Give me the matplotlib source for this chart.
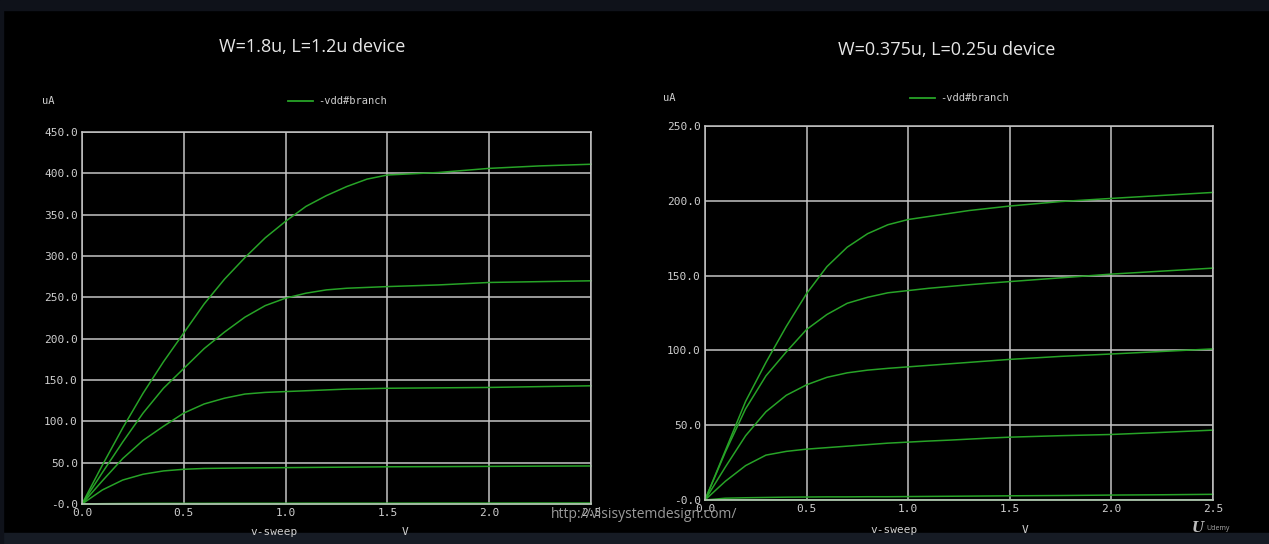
import matplotlib.pyplot as plt
from matplotlib.patches import Rectangle

# sweep points (V)
v = [0, 0.1, 0.2, 0.3, 0.4, 0.5, 0.6, 0.7, 0.8, 0.9, 1.0, 1.1, 1.2, 1.3, 1.4,
     1.5, 1.75, 2.0, 2.25, 2.5]

# W=1.8u, L=1.2u device (uA)
big_1 = [0, 47, 92, 134, 172, 207, 242, 272, 298, 322, 342, 360, 373, 384, 393,
         398, 401, 406, 409, 411]
big_2 = [0, 38, 75, 110, 140, 164, 188, 208, 226, 240, 249, 255, 259, 261, 262,
         263, 265, 268, 269, 270]
big_3 = [0, 28, 55, 77, 94, 110, 121, 128, 133, 135, 136, 137, 138, 139, 139.5,
         140, 140.5, 141, 142, 143]
big_4 = [0, 17, 29, 36, 40, 42, 43, 43.3, 43.6, 43.8, 44, 44.2, 44.4, 44.6, 44.8,
         45, 45.2, 45.5, 45.8, 46]
big_5 = [0, 0.4, 0.6, 0.7, 0.8, 0.8, 0.8, 0.9, 0.9, 0.9, 0.9, 1.0, 1.0, 1.0, 1.0,
         1.0, 1.1, 1.1, 1.2, 1.2]
big_6 = [0] * 20

# W=0.375u, L=0.25u device (uA)
small_1 = [0, 33, 66, 92, 116, 138, 156, 169, 178, 184, 187.5, 189.5, 191.5,
           193.5, 195, 196.5, 199.5, 201.6, 203.6, 205.6]
small_2 = [0, 32, 61, 83, 99, 114, 124, 131.5, 135.5, 138.5, 140, 141.5, 142.7,
           143.9, 145, 146, 148.5, 151, 153, 155]
small_3 = [0, 22, 43, 59, 70, 77, 82, 85, 86.8, 88, 89, 90, 91, 92, 93, 94, 96,
           97.6, 99.3, 101]
small_4 = [0, 12.5, 23, 30, 32.5, 34, 35, 36, 37, 38, 38.7, 39.4, 40, 40.7, 41.4,
           42, 43, 43.8, 45.2, 46.7]
small_5 = [0, 1.2, 1.5, 1.7, 1.9, 2.0, 2.1, 2.1, 2.2, 2.2, 2.3, 2.4, 2.5, 2.6,
           2.7, 2.8, 3.0, 3.3, 3.5, 3.8]
small_6 = [0] * 20

x_ticks = [0.0, 0.5, 1.0, 1.5, 2.0, 2.5]
big_yticks = [0, 50, 100, 150, 200, 250, 300, 350, 400, 450]
small_yticks = [0, 50, 100, 150, 200, 250]

GREEN = '#27a327'
GRID = '#c4c4c4'
LABEL = '#cfcfcf'
MONO = 'DejaVu Sans Mono'

fig = plt.figure(figsize=(12.69, 5.44), dpi=100, facecolor='black')

# dark frame strips of the screenshot
fig.patches.append(Rectangle((0, 1 - 10 / 544), 1, 10 / 544, transform=fig.transFigure,
                             color='#0f121a', zorder=0))
fig.patches.append(Rectangle((0, 0), 1, 11 / 544, transform=fig.transFigure,
                             color='#161b24', zorder=0))
fig.patches.append(Rectangle((0, 0), 3 / 1269, 1, transform=fig.transFigure,
                             color='#0f121a', zorder=0))


def panel(rect, curves, yticks, ymax):
    ax = fig.add_axes(rect)
    ax.set_facecolor('black')
    for c in curves:
        ax.plot(v, c, color=GREEN, lw=1.1, clip_on=False)
    ax.set_xlim(0, 2.5)
    ax.set_ylim(0, ymax)
    ax.set_xticks(x_ticks)
    ax.set_xticklabels([f'{t:.1f}' for t in x_ticks])
    ax.set_yticks(yticks)
    ax.set_yticklabels(['-0.0' if t == 0 else f'{t:.1f}' for t in yticks])
    ax.tick_params(length=0, colors=LABEL, labelsize=8, pad=3)
    for lab in ax.get_xticklabels() + ax.get_yticklabels():
        lab.set_family(MONO)
    ax.grid(True, color=GRID, lw=1.1)
    ax.set_axisbelow(True)
    for s in ax.spines.values():
        s.set_color(GRID)
        s.set_linewidth(1.1)
    return ax


ax1 = panel([82 / 1269, 40 / 544, 509 / 1269, 372 / 544],
            [big_1, big_2, big_3, big_4, big_5, big_6], big_yticks, 450)
ax2 = panel([705 / 1269, 44 / 544, 508 / 1269, 374 / 544],
            [small_1, small_2, small_3, small_4, small_5, small_6], small_yticks, 250)


def px(x, y):
    return x / 1269, 1 - y / 544


# titles
fig.text(*px(312, 47), 'W=1.8u, L=1.2u device', color='#e6e6e6', fontsize=13,
         family='Open Sans', ha='center', va='center')
fig.text(*px(947, 50), 'W=0.375u, L=0.25u device', color='#e6e6e6', fontsize=13,
         family='Open Sans', ha='center', va='center')

# unit labels, legends, axis labels
for ux, uy, lx, ly, vx, vy, sx in [(42, 101, 288, 101, 250, 532, 402),
                                   (663, 98, 910, 98, 870, 530, 1022)]:
    fig.text(*px(ux, uy), 'uA', color=LABEL, fontsize=7.5, family=MONO, va='center')
    fig.lines.append(plt.Line2D([lx / 1269, (lx + 25) / 1269], [1 - ly / 544] * 2,
                                transform=fig.transFigure, color=GREEN, lw=1.3))
    fig.text(*px(lx + 30, ly), '-vdd#branch', color=LABEL, fontsize=7.5,
             family=MONO, va='center')
    fig.text(*px(vx, vy), 'v-sweep', color=LABEL, fontsize=8, family=MONO, va='center')
    fig.text(*px(sx, vy), 'V', color=LABEL, fontsize=8, family=MONO, va='center')

# watermarks
fig.text(*px(551, 515), 'http://vlsisystemdesign.com/', color='#9a9a9a', fontsize=10,
         family='Open Sans', va='center')
fig.text(*px(1192, 528), 'U', color='#bbbbbb', fontsize=10, family='DejaVu Serif',
         style='italic', weight='bold', va='center')
fig.text(*px(1206, 528), 'Udemy', color='#aaaaaa', fontsize=5, family='Open Sans',
         va='center')

fig.savefig('out.png', dpi=100, facecolor='black')
